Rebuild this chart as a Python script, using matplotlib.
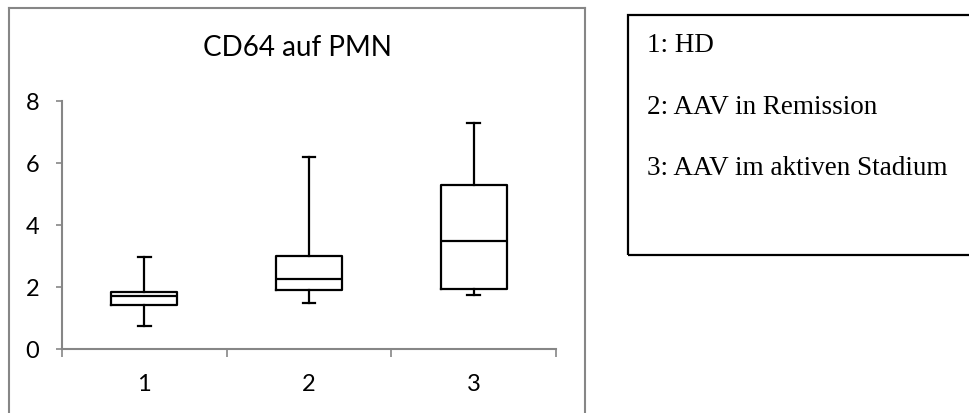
import matplotlib
matplotlib.use("Agg")
import matplotlib.pyplot as plt
from matplotlib.lines import Line2D
from matplotlib.patches import Rectangle

# Box plot summaries per group
groups = ["1", "2", "3"]
whisker_low = [0.74, 1.48, 1.72]
q1 = [1.40, 1.89, 1.91]
median = [1.68, 2.23, 3.46]
q3 = [1.83, 2.98, 5.27]
whisker_high = [2.96, 6.17, 7.28]

y_ticks = [0, 2, 4, 6, 8]
title = "CD64 auf PMN"
legend_lines = ["1: HD", "2: AAV in Remission", "3: AAV im aktiven Stadium"]

W, H = 969, 414
fig = plt.figure(figsize=(W / 100, H / 100), dpi=100)
fig.patch.set_facecolor("white")


def fx(px):
    return px / W


def fy(py):
    return 1 - py / H


axis_grey = "#868686"

# Chart area frame (open at the bottom edge of the canvas)
frame_kw = dict(color=axis_grey, lw=1.5, solid_capstyle="projecting")
fig.add_artist(Line2D([fx(9), fx(9)], [fy(9), fy(420)], transform=fig.transFigure, **frame_kw))
fig.add_artist(Line2D([fx(9), fx(585)], [fy(9), fy(9)], transform=fig.transFigure, **frame_kw))
fig.add_artist(Line2D([fx(585), fx(585)], [fy(9), fy(420)], transform=fig.transFigure, **frame_kw))

ax = fig.add_axes([fx(62), fy(349.5), fx(556) - fx(62), fy(101.5) - fy(349.5)])
ax.set_facecolor("none")

stats = []
for i, g in enumerate(groups):
    stats.append(dict(label=g, whislo=whisker_low[i], q1=q1[i], med=median[i],
                      q3=q3[i], whishi=whisker_high[i], fliers=[]))

line_kw = dict(color="black", linewidth=1.6)
ax.bxp(stats, positions=[1, 2, 3], widths=0.4, capwidths=0.075,
       showfliers=False, boxprops=line_kw, whiskerprops=line_kw,
       capprops=line_kw, medianprops=line_kw, manage_ticks=False)

ax.set_xlim(0.5, 3.5)
ax.set_ylim(0, 8)

for side in ("top", "right"):
    ax.spines[side].set_visible(False)
for side in ("left", "bottom"):
    ax.spines[side].set_color(axis_grey)
    ax.spines[side].set_linewidth(1.5)

tick_font = dict(family="Lato", size=17)
ax.set_yticks(y_ticks)
ax.set_yticklabels([str(v) for v in y_ticks], **tick_font)
ax.tick_params(axis="y", direction="out", length=4.5, width=1.2, color=axis_grey,
               pad=12, labelcolor="black")

# Category axis: ticks on the boundaries, labels centred on each group
ax.set_xticks([0.5, 1.5, 2.5, 3.5])
ax.set_xticklabels([])
ax.set_xticks([1, 2, 3], minor=True)
ax.set_xticklabels(groups, minor=True, **tick_font)
ax.tick_params(axis="x", which="major", direction="out", length=6, width=1.2, color=axis_grey)
ax.tick_params(axis="x", which="minor", length=0, pad=18, labelcolor="black")

fig.text(fx(297), fy(48), title, ha="center", va="center", family="Lato", size=20)

# Group key box
fig.add_artist(Rectangle((fx(628), fy(256)), fx(980) - fx(628), fy(16) - fy(256),
                         transform=fig.transFigure, fill=False, edgecolor="black", lw=1.6))
for k, txt in enumerate(legend_lines):
    fig.text(fx(647), fy(52 + 61.7 * k), txt, ha="left", va="baseline",
             family="Liberation Serif", size=19.5)

fig.savefig("out.png", dpi=100, facecolor="white")
